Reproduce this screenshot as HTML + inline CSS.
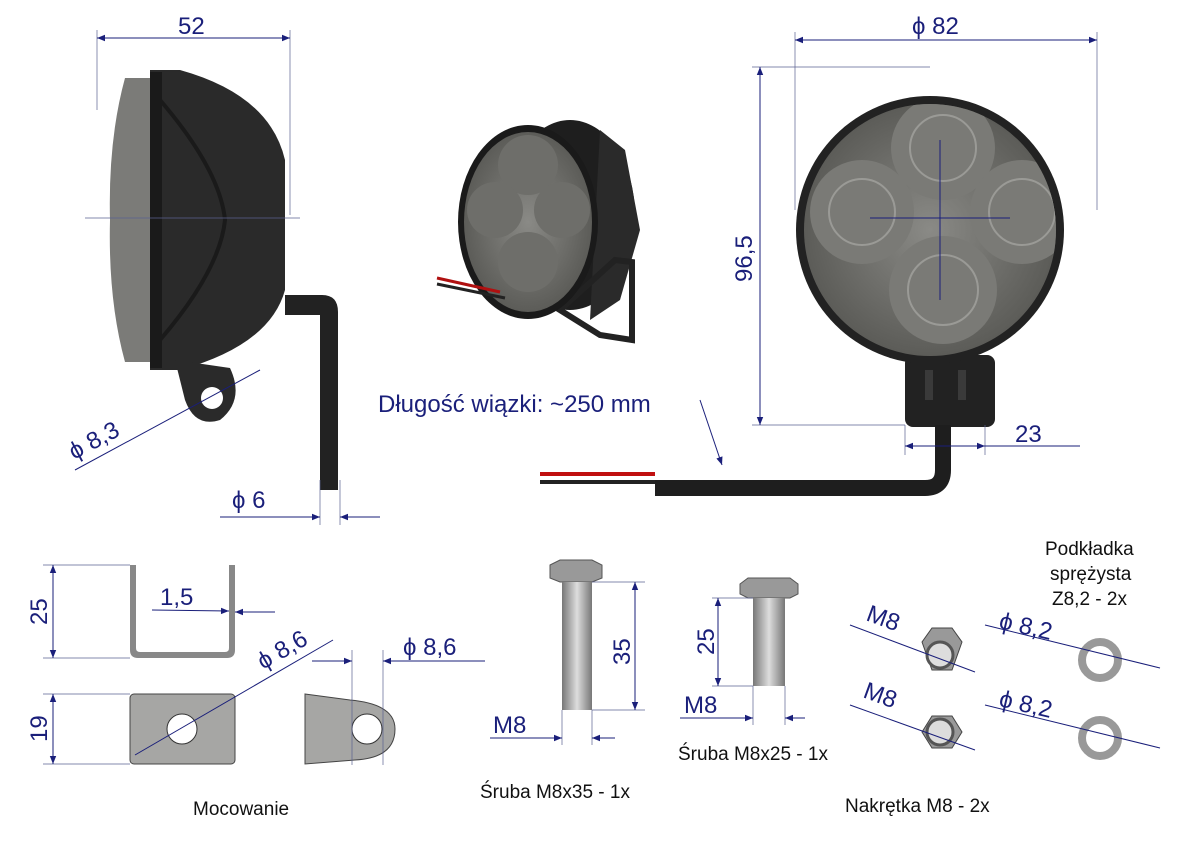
<!DOCTYPE html>
<html><head><meta charset="utf-8"><style>
html,body{margin:0;padding:0;background:#fff;}
svg{display:block;}
text{font-family:"Liberation Sans",sans-serif;}
.b{fill:#1a1f7a;font-size:24px;}
.k{fill:#111;font-size:19px;}
.d{stroke:#1a1f7a;stroke-width:1;fill:none;}
.e{stroke:#5a6090;stroke-width:0.7;fill:none;}
</style></head><body>
<svg width="1191" height="842" viewBox="0 0 1191 842" xmlns="http://www.w3.org/2000/svg">
<defs>
<marker id="a" viewBox="0 0 10 10" refX="10" refY="5" markerWidth="16" markerHeight="8" markerUnits="userSpaceOnUse" orient="auto-start-reverse"><path d="M0,1 L10,5 L0,9z" fill="#1a1f7a"/></marker>
<radialGradient id="lens" cx="0.5" cy="0.5" r="0.5"><stop offset="0" stop-color="#8a8a86"/><stop offset="1" stop-color="#5c5c58"/></radialGradient>
<linearGradient id="met" x1="0" x2="1"><stop offset="0" stop-color="#777"/><stop offset=".5" stop-color="#ddd"/><stop offset="1" stop-color="#777"/></linearGradient>
<clipPath id="fc"><circle cx="930" cy="230" r="126"/></clipPath>
<clipPath id="pc"><ellipse cx="528" cy="222" rx="64" ry="90"/></clipPath>
</defs>

<!-- side view lamp -->
<path d="M150,70 L180,70 Q270,95 285,160 L285,290 Q270,345 180,370 L150,370z" fill="#2a2a2a"/>
<path d="M125,78 L160,78 L160,362 L125,362 Q108,300 110,220 Q108,140 125,78z" fill="#7b7b78"/>
<path d="M150,72 L162,72 L162,368 L150,368z" fill="#1a1a1a"/>
<path d="M160,100 Q220,170 225,220 Q220,270 160,340" stroke="#1a1a1a" stroke-width="4" fill="none"/>
<path d="M285,295 L322,295 Q338,295 338,312 L338,490 L320,490 L320,315 L285,315z" fill="#222"/>
<path d="M175,360 L230,368 Q245,400 220,420 Q195,428 185,400z" fill="#2a2a2a"/>
<circle cx="212" cy="398" r="11" fill="#fff"/>
<line class="e" x1="85" y1="218" x2="300" y2="218"/>
<line class="e" x1="97" y1="30" x2="97" y2="110"/><line class="e" x1="290" y1="30" x2="290" y2="215"/>
<line class="d" x1="97" y1="38" x2="290" y2="38" marker-start="url(#a)" marker-end="url(#a)"/>
<text class="b" x="178" y="34">52</text>
<line class="d" x1="75" y1="470" x2="260" y2="370"/>
<text class="b" x="74" y="460" transform="rotate(-28 74 460)">ϕ 8,3</text>
<line class="e" x1="320" y1="480" x2="320" y2="525"/><line class="e" x1="340" y1="480" x2="340" y2="525"/>
<line class="d" x1="220" y1="517" x2="320" y2="517" marker-end="url(#a)"/>
<line class="d" x1="380" y1="517" x2="340" y2="517" marker-end="url(#a)"/>
<text class="b" x="232" y="508">ϕ  6</text>

<!-- perspective lamp -->
<ellipse cx="570" cy="215" rx="65" ry="95" fill="#1e1e1e"/>
<path d="M600,130 L625,150 L640,230 L620,300 L590,320z" fill="#2a2a2a"/>
<path d="M615,260 L632,262 L632,340 L600,335 L560,310z" fill="none" stroke="#222" stroke-width="6"/>
<ellipse cx="528" cy="222" rx="70" ry="97" fill="#1a1a1a"/>
<ellipse cx="528" cy="222" rx="64" ry="90" fill="url(#lens)"/>
<g clip-path="url(#pc)">
<circle cx="528" cy="165" r="30" fill="#6e6e6a"/><circle cx="495" cy="210" r="28" fill="#6e6e6a"/>
<circle cx="562" cy="210" r="28" fill="#6e6e6a"/><circle cx="528" cy="262" r="30" fill="#6e6e6a"/>
</g>
<path d="M437,278 L500,292" stroke="#b01010" stroke-width="3"/>
<path d="M437,284 L505,298" stroke="#222" stroke-width="3"/>

<!-- front lamp -->
<rect x="905" y="355" width="90" height="72" rx="8" fill="#222"/>
<rect x="925" y="370" width="8" height="30" fill="#3a3a3a"/><rect x="958" y="370" width="8" height="30" fill="#3a3a3a"/>
<circle cx="930" cy="230" r="134" fill="#222"/>
<circle cx="930" cy="230" r="126" fill="url(#lens)"/>
<g clip-path="url(#fc)">
<circle cx="943" cy="148" r="52" fill="#7a7a76"/><circle cx="862" cy="212" r="52" fill="#7a7a76"/>
<circle cx="1022" cy="212" r="52" fill="#7a7a76"/><circle cx="943" cy="290" r="54" fill="#7a7a76"/>
<g fill="none" stroke="#9a9a96" stroke-width="2">
<circle cx="943" cy="148" r="33"/><circle cx="862" cy="212" r="33"/><circle cx="1022" cy="212" r="33"/><circle cx="943" cy="290" r="35"/>
</g>
</g>
<line class="d" x1="870" y1="218" x2="1010" y2="218"/><line class="d" x1="940" y1="140" x2="940" y2="300"/>
<path d="M943,425 L943,470 Q943,488 925,488 L655,488" stroke="#1e1e1e" stroke-width="16" fill="none"/>
<path d="M540,474 L655,474" stroke="#c01010" stroke-width="4"/>
<path d="M540,482 L655,482" stroke="#222" stroke-width="4"/>
<line class="e" x1="795" y1="32" x2="795" y2="210"/><line class="e" x1="1097" y1="32" x2="1097" y2="210"/>
<line class="d" x1="795" y1="40" x2="1097" y2="40" marker-start="url(#a)" marker-end="url(#a)"/>
<text class="b" x="912" y="34">ϕ  82</text>
<line class="e" x1="752" y1="67" x2="930" y2="67"/><line class="e" x1="752" y1="425" x2="905" y2="425"/>
<line class="d" x1="760" y1="67" x2="760" y2="425" marker-start="url(#a)" marker-end="url(#a)"/>
<text class="b" x="752" y="282" transform="rotate(-90 752 282)">96,5</text>
<line class="e" x1="905" y1="425" x2="905" y2="455"/><line class="e" x1="985" y1="425" x2="985" y2="455"/>
<line class="d" x1="905" y1="446" x2="985" y2="446" marker-start="url(#a)" marker-end="url(#a)"/>
<line class="d" x1="985" y1="446" x2="1080" y2="446"/>
<text class="b" x="1015" y="442">23</text>
<text class="b" x="378" y="412">Długość wiązki: ~250 mm</text>
<line class="d" x1="700" y1="400" x2="722" y2="465" marker-end="url(#a)"/>

<!-- bracket U -->
<path d="M130,565 L136,565 L136,648 Q136,652 140,652 L225,652 Q229,652 229,648 L229,565 L235,565 L235,650 Q235,658 227,658 L138,658 Q130,658 130,650z" fill="#888"/>
<line class="e" x1="43" y1="565" x2="130" y2="565"/><line class="e" x1="43" y1="658" x2="130" y2="658"/>
<line class="d" x1="53" y1="565" x2="53" y2="658" marker-start="url(#a)" marker-end="url(#a)"/>
<text class="b" x="47" y="625" transform="rotate(-90 47 625)">25</text>
<text class="b" x="160" y="605">1,5</text>
<line class="d" x1="152" y1="610" x2="229" y2="611" marker-end="url(#a)"/>
<line class="d" x1="275" y1="612" x2="235" y2="612" marker-end="url(#a)"/>
<rect x="130" y="694" width="105" height="70" rx="4" fill="#a6a6a4" stroke="#444"/>
<circle cx="182" cy="729" r="15" fill="#fff" stroke="#333"/>
<line class="e" x1="43" y1="694" x2="130" y2="694"/><line class="e" x1="43" y1="764" x2="130" y2="764"/>
<line class="d" x1="53" y1="694" x2="53" y2="764" marker-start="url(#a)" marker-end="url(#a)"/>
<text class="b" x="47" y="742" transform="rotate(-90 47 742)">19</text>
<line class="d" x1="135" y1="755" x2="333" y2="640"/>
<text class="b" x="263" y="670" transform="rotate(-30 263 670)">ϕ 8,6</text>
<path d="M305,694 L350,700 Q395,704 395,729 Q395,758 355,760 L305,764z" fill="#a6a6a4" stroke="#444"/>
<circle cx="367" cy="729" r="15" fill="#fff" stroke="#333"/>
<line class="e" x1="352" y1="650" x2="352" y2="765"/><line class="e" x1="383" y1="650" x2="383" y2="765"/>
<line class="d" x1="312" y1="661" x2="352" y2="661" marker-end="url(#a)"/>
<line class="d" x1="485" y1="661" x2="383" y2="661" marker-end="url(#a)"/>
<text class="b" x="403" y="655">ϕ  8,6</text>
<text class="k" x="193" y="815">Mocowanie</text>

<!-- bolts -->
<path d="M550,565 L560,560 L592,560 L602,565 L602,578 L592,582 L560,582 L550,578z" fill="#999" stroke="#555"/>
<rect x="562" y="582" width="30" height="128" fill="url(#met)"/>
<line class="e" x1="592" y1="582" x2="645" y2="582"/><line class="e" x1="592" y1="710" x2="645" y2="710"/>
<line class="d" x1="635" y1="582" x2="635" y2="710" marker-start="url(#a)" marker-end="url(#a)"/>
<text class="b" x="630" y="665" transform="rotate(-90 630 665)">35</text>
<line class="e" x1="562" y1="710" x2="562" y2="745"/><line class="e" x1="592" y1="710" x2="592" y2="745"/>
<line class="d" x1="490" y1="738" x2="562" y2="738" marker-end="url(#a)"/>
<line class="d" x1="615" y1="738" x2="592" y2="738" marker-end="url(#a)"/>
<text class="b" x="493" y="733">M8</text>
<text class="k" x="480" y="798">Śruba M8x35 - 1x</text>

<path d="M740,584 L748,578 L790,578 L798,584 L798,594 L790,598 L748,598 L740,594z" fill="#999" stroke="#555"/>
<rect x="753" y="598" width="32" height="88" fill="url(#met)"/>
<line class="e" x1="712" y1="598" x2="753" y2="598"/><line class="e" x1="712" y1="686" x2="753" y2="686"/>
<line class="d" x1="718" y1="598" x2="718" y2="686" marker-start="url(#a)" marker-end="url(#a)"/>
<text class="b" x="714" y="655" transform="rotate(-90 714 655)">25</text>
<line class="e" x1="753" y1="686" x2="753" y2="725"/><line class="e" x1="785" y1="686" x2="785" y2="725"/>
<line class="d" x1="680" y1="718" x2="753" y2="718" marker-end="url(#a)"/>
<line class="d" x1="805" y1="718" x2="785" y2="718" marker-end="url(#a)"/>
<text class="b" x="684" y="713">M8</text>
<text class="k" x="678" y="760">Śruba M8x25 - 1x</text>

<!-- nuts -->
<polygon points="922,642 932,628 952,628 962,642 952,670 932,670" fill="#999" stroke="#444"/>
<circle cx="940" cy="655" r="13" fill="#ddd" stroke="#555" stroke-width="3"/>
<polygon points="922,732 932,716 952,716 962,732 952,748 932,748" fill="#999" stroke="#444"/>
<circle cx="940" cy="732" r="13" fill="#ddd" stroke="#555" stroke-width="3"/>
<line class="d" x1="850" y1="625" x2="975" y2="672"/><line class="d" x1="850" y1="705" x2="975" y2="750"/>
<text class="b" x="865" y="620" transform="rotate(20 865 620)">M8</text>
<text class="b" x="862" y="697" transform="rotate(20 862 697)">M8</text>
<text class="k" x="845" y="812">Nakrętka M8 - 2x</text>

<circle cx="1100" cy="660" r="18" fill="none" stroke="#999" stroke-width="8"/>
<circle cx="1100" cy="738" r="18" fill="none" stroke="#999" stroke-width="8"/>
<line class="d" x1="985" y1="625" x2="1160" y2="668"/><line class="d" x1="985" y1="705" x2="1160" y2="748"/>
<text class="b" x="998" y="628" transform="rotate(13 998 628)">ϕ  8,2</text>
<text class="b" x="998" y="706" transform="rotate(13 998 706)">ϕ  8,2</text>
<text class="k" x="1045" y="555">Podkładka</text>
<text class="k" x="1050" y="580">sprężysta</text>
<text class="k" x="1052" y="605">Z8,2 - 2x</text>
</svg>
</body></html>
